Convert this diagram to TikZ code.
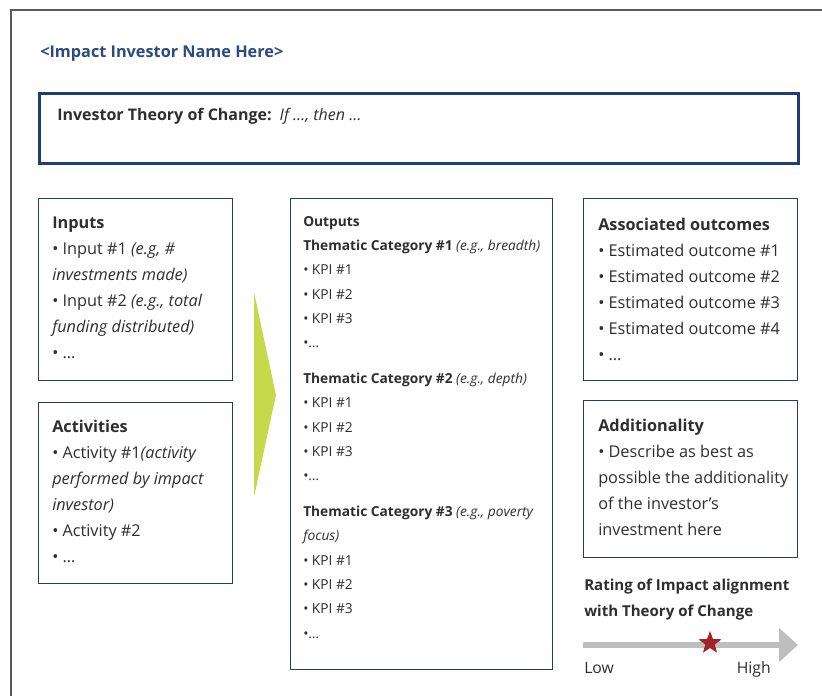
\documentclass[tikz,border=0pt]{standalone}
\usepackage{fontspec}
\setmainfont{Open Sans}
\usepackage{tikz}
\usetikzlibrary{arrows.meta,shapes.geometric}
\definecolor{navy}{HTML}{1F3D72}
\definecolor{headblue}{HTML}{2B4A80}
\definecolor{chevgreen}{HTML}{C6D94B}
\definecolor{starred}{HTML}{A3212B}
\definecolor{bargray}{HTML}{BEBEBE}
\definecolor{framegray}{HTML}{5A5A5A}
\definecolor{txtgray}{HTML}{2E2E2E}
\tikzstyle{box} = [draw=navy, line width=0.75pt, fill=white, anchor=north west, inner sep=0pt]
% text blocks are placed by the baseline of their last line
\tikzstyle{boxtxt} = [anchor=base west, align=left, inner sep=0pt, text=txtgray,
  font={\fontsize{12.2}{19.5}\selectfont}]
\tikzstyle{outtxt} = [boxtxt, font={\fontsize{10.3}{18.25}\selectfont}]
\tikzset{font={\small}}

\begin{document}
\begin{tikzpicture}[x=0.75pt, y=-0.75pt]
  \useasboundingbox (0,0) rectangle (822,696);
  \draw[framegray, line width=1.2pt] (11,696) -- (11,10) -- (822,10);

  \node[at={(40,57)}, anchor=base west, inner sep=0pt, text=headblue,
    font={\fontsize{12.2}{14}\selectfont\bfseries}] (name) {<Impact Investor Name Here>};

  \node[box, at={(38,92)}, draw=navy, line width=2.25pt, minimum width=569.25pt,
    minimum height=52.5pt] (toc) {};
  \node[anchor=base west, inner sep=0pt, text=txtgray, font={\fontsize{12}{14}\selectfont},
    at={(57,120)}] (toctxt) {\textbf{Investor Theory of Change:}\enspace\textit{If \ldots, then \ldots}};

  % left column
  \node[box, at={(38,198)}, minimum width=145.5pt, minimum height=136.5pt] (inputs) {};
  \node[boxtxt, at={(52,358)}] (inputstxt) {\textbf{Inputs}\\
    • Input \#1 \textit{(e.g, \#}\\
    \textit{investments made)}\\
    • Input \#2 \textit{(e.g., total}\\
    \textit{funding distributed)}\\
    • \ldots};

  \node[box, at={(38,402)}, minimum width=145.5pt, minimum height=135.75pt] (activities) {};
  \node[boxtxt, at={(52,562)}] (activitiestxt) {\textbf{Activities}\\
    • Activity \#1\textit{(activity}\\
    \textit{performed by impact}\\
    \textit{investor)}\\
    • Activity \#2\\
    • \ldots};

  \fill[chevgreen] (254,292) -- (276,395) -- (254,497) -- cycle;

  % middle column
  \node[box, at={(290,198)}, minimum width=196.5pt, minimum height=353.25pt] (outputs) {};
  \node[outtxt, at={(303,638)}] (outputstxt) {\textbf{Outputs}\\
    \textbf{Thematic Category \#1} \textit{(e.g., breadth)}\\
    • KPI \#1\\
    • KPI \#2\\
    • KPI \#3\\
    •\ldots\\[8.5pt]
    \textbf{Thematic Category \#2} \textit{(e.g., depth)}\\
    • KPI \#1\\
    • KPI \#2\\
    • KPI \#3\\
    •\ldots\\[8.5pt]
    \textbf{Thematic Category \#3} \textit{(e.g., poverty}\\
    \textit{focus)}\\
    • KPI \#1\\
    • KPI \#2\\
    • KPI \#3\\
    •\ldots};

  % right column
  \node[box, at={(583,198)}, minimum width=160.5pt, minimum height=136.5pt] (outcomes) {};
  \node[boxtxt, at={(598,360)}] (outcomestxt) {\textbf{Associated outcomes}\\
    • Estimated outcome \#1\\
    • Estimated outcome \#2\\
    • Estimated outcome \#3\\
    • Estimated outcome \#4\\
    • \ldots};

  \node[box, at={(583,400)}, minimum width=160.5pt, minimum height=117.75pt] (additional) {};
  \node[boxtxt, at={(598,535)}] (additionaltxt) {\textbf{Additionality}\\
    • Describe as best as\\
    possible the additionality\\
    of the investor’s\\
    investment here};

  \node[boxtxt, at={(584,616)}, font={\fontsize{11.3}{19.5}\selectfont\bfseries}] (rating)
    {Rating of Impact alignment\\with Theory of Change};

  \coordinate (lo) at (583,645);
  \coordinate (hi) at (798,645);
  \draw[bargray, line width=4.5pt, -{Triangle[length=14.25pt, width=24.75pt]}] (lo) -- (hi);
  \node[star, star points=5, star point ratio=2.4, fill=starred, inner sep=0pt,
    minimum size=18pt, at={(710,643)}] (rate) {};
  \node[anchor=base west, inner sep=0pt, text=txtgray, font={\fontsize{11.8}{14}\selectfont},
    at={(584,673)}] (low) {Low};
  \node[anchor=base east, inner sep=0pt, text=txtgray, font={\fontsize{11.8}{14}\selectfont},
    at={(771,673)}] (high) {High};
\end{tikzpicture}
\end{document}
